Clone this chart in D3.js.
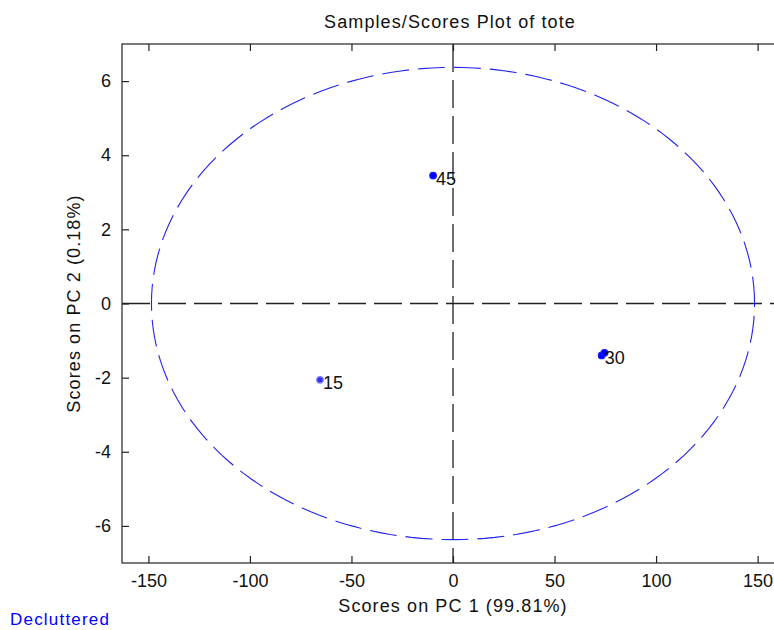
<!DOCTYPE html>
<html>
<head>
<meta charset="utf-8">
<script src="https://cdn.jsdelivr.net/npm/d3@7"></script>
<style>
  body { margin: 0; background: #fff; }
  svg { display: block; font-family: "Liberation Sans", Arial, sans-serif; }
</style>
</head>
<body>
<svg id="chart"></svg>
<script>
// scores
const sampleLabels = ["45", "15", "30", "30"];
const pc1Scores = [-9.8, -65.5, 73.2, 74.6];
const pc2Scores = [3.45, -2.06, -1.40, -1.33];
const showLabel = [true, true, true, false];
const xTicks = [-150, -100, -50, 0, 50, 100, 150];
const yTicks = [-6, -4, -2, 0, 2, 4, 6];
// confidence ellipse radii
const ellipseRx = 148.5;
const ellipseRy = 6.37;

const width = 774, height = 630;
const margin = { top: 44, left: 122, right: -10, bottom: 67 };

const svg = d3.select("#chart")
    .attr("width", width)
    .attr("height", height);

const x = d3.scaleLinear()
    .domain([-163, 163])
    .range([margin.left, width - margin.right]);

const y = d3.scaleLinear()
    .domain([-7, 7])
    .range([height - margin.bottom, margin.top]);

const tickLen = 7;

// box
svg.append("rect")
    .attr("x", x(-163))
    .attr("y", y(7))
    .attr("width", x(163) - x(-163))
    .attr("height", y(-7) - y(7))
    .attr("fill", "none")
    .attr("stroke", "#222")
    .attr("stroke-width", 1.2);

// zero lines
svg.append("line")
    .attr("x1", x(-163)).attr("x2", x(163))
    .attr("y1", y(0)).attr("y2", y(0))
    .attr("stroke", "#222").attr("stroke-width", 1.3)
    .attr("stroke-dasharray", "28,8");

svg.append("line")
    .attr("x1", x(0)).attr("x2", x(0))
    .attr("y1", y(7)).attr("y2", y(-7))
    .attr("stroke", "#222").attr("stroke-width", 1.3)
    .attr("stroke-dasharray", "28,8");

// ellipse
const ellipsePts = d3.range(0, 361, 2).map(a => {
    const t = a * Math.PI / 180;
    return [ellipseRx * Math.cos(t), ellipseRy * Math.sin(t)];
});
svg.append("path")
    .datum(ellipsePts)
    .attr("d", d3.line().x(d => x(d[0])).y(d => y(d[1])))
    .attr("fill", "none")
    .attr("stroke", "#2222ee")
    .attr("stroke-width", 1.1)
    .attr("stroke-dasharray", "27,9");

// axes
const fmt = d => String(d);
const xAxisB = d3.axisBottom(x).tickValues(xTicks).tickFormat(fmt).tickSizeInner(-tickLen).tickSizeOuter(0).tickPadding(11);
const xAxisT = d3.axisTop(x).tickValues(xTicks).tickSizeInner(-tickLen).tickSizeOuter(0).tickFormat("");
const yAxisL = d3.axisLeft(y).tickValues(yTicks).tickFormat(fmt).tickSizeInner(-tickLen).tickSizeOuter(0).tickPadding(11);

function styleAxis(g) {
    g.select(".domain").remove();
    g.selectAll(".tick line").attr("stroke", "#222").attr("stroke-width", 1.2);
    g.selectAll(".tick text").attr("fill", "#111").attr("font-size", 18);
}

svg.append("g")
    .attr("transform", `translate(0,${y(-7)})`)
    .call(xAxisB).call(styleAxis);

svg.append("g")
    .attr("transform", `translate(0,${y(7)})`)
    .call(xAxisT).call(styleAxis);

svg.append("g")
    .attr("transform", `translate(${x(-163)},0)`)
    .call(yAxisL).call(styleAxis);

// points
const idx = d3.range(pc1Scores.length);
svg.selectAll("circle.pt")
    .data(idx)
    .enter()
    .append("circle")
    .attr("class", "pt")
    .attr("cx", i => x(pc1Scores[i]))
    .attr("cy", i => y(pc2Scores[i]))
    .attr("r", 3.3)
    .attr("fill", i => i === 1 ? "#3333ee" : "#0000ff")
    .attr("stroke", i => i === 1 ? "#8888ff" : "#1a1aff")
    .attr("stroke-width", 1.2);

svg.selectAll("text.lbl")
    .data(idx.filter(i => showLabel[i]))
    .enter()
    .append("text")
    .attr("class", "lbl")
    .attr("x", i => x(pc1Scores[i]) + 3)
    .attr("y", i => y(pc2Scores[i]) + 9)
    .attr("font-size", 18)
    .attr("fill", "#111")
    .text(i => sampleLabels[i]);

// titles
svg.append("text")
    .attr("x", x(0) - 3)
    .attr("y", 28)
    .attr("text-anchor", "middle")
    .attr("font-size", 18)
    .attr("letter-spacing", 1.1)
    .attr("fill", "#111")
    .text("Samples/Scores Plot of tote");

svg.append("text")
    .attr("x", x(0))
    .attr("y", 612)
    .attr("text-anchor", "middle")
    .attr("font-size", 18)
    .attr("letter-spacing", 1.1)
    .attr("fill", "#111")
    .text("Scores on PC 1 (99.81%)");

svg.append("text")
    .attr("transform", `translate(80,${y(0)}) rotate(-90)`)
    .attr("text-anchor", "middle")
    .attr("font-size", 18)
    .attr("letter-spacing", 1.1)
    .attr("fill", "#111")
    .text("Scores on PC 2 (0.18%)");

svg.append("text")
    .attr("x", 10)
    .attr("y", 625)
    .attr("font-size", 17)
    .attr("letter-spacing", 1.2)
    .attr("fill", "#0000ff")
    .text("Decluttered");
</script>
</body>
</html>
